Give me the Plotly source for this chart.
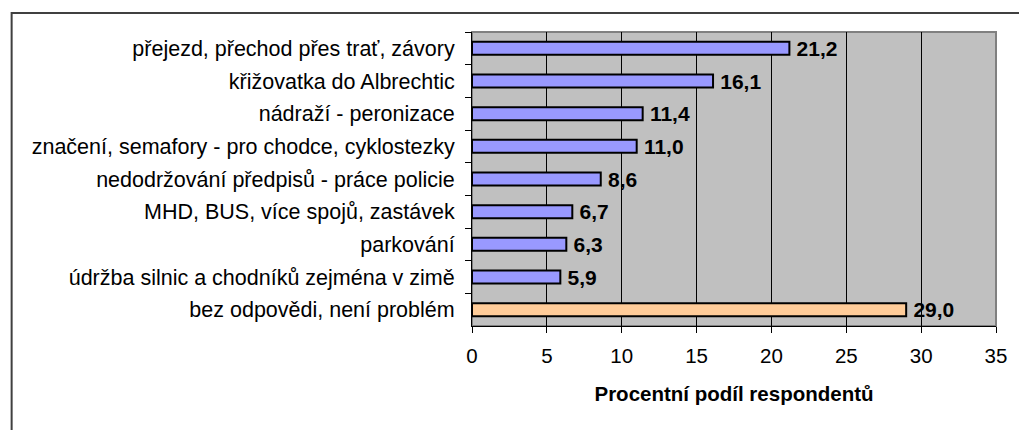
import plotly.graph_objects as go

categories = [
    "přejezd, přechod přes trať, závory",
    "křižovatka do Albrechtic",
    "nádraží - peronizace",
    "značení, semafory - pro chodce, cyklostezky",
    "nedodržování předpisů - práce policie",
    "MHD, BUS, více spojů, zastávek",
    "parkování",
    "údržba silnic a chodníků zejména v zimě",
    "bez odpovědi, není problém",
]
values = [21.2, 16.1, 11.4, 11.0, 8.6, 6.7, 6.3, 5.9, 29.0]
bar_colors = ["#9999FF"] * 8 + ["#FFCC99"]
x_ticks = [0, 5, 10, 15, 20, 25, 30, 35]
x_title = "Procentní podíl respondentů"

# value labels use a decimal comma; a thin space keeps them off the bar end
labels = ["\u2009" + f"{v:.1f}".replace(".", ",") for v in values]
FONT = "Liberation Sans, Arial, sans-serif"

fig = go.Figure(
    go.Bar(
        x=values,
        y=categories,
        orientation="h",
        width=0.4,
        marker=dict(color=bar_colors, line=dict(color="black", width=2)),
        text=labels,
        textposition="outside",
        constraintext="none",
        textfont=dict(family=FONT, size=21, color="black", weight="bold"),
        cliponaxis=False,
    )
)

W, H = 1019, 430
ml, mr, mt, mb = 472, 20, 32, 104
pw, ph = W - ml - mr, H - mt - mb

def px_x(px):
    return (px - ml) / pw

def px_y(py):
    return (H - mb - py) / ph

fig.update_layout(
    width=W,
    height=H,
    margin=dict(l=ml, r=mr, t=mt, b=mb),
    paper_bgcolor="white",
    plot_bgcolor="#C0C0C0",
    showlegend=False,
    font=dict(family=FONT, size=21, color="black"),
    xaxis=dict(
        range=[0, 35],
        tickvals=x_ticks,
        ticktext=[str(t) for t in x_ticks],
        showgrid=True,
        gridcolor="black",
        gridwidth=1,
        zeroline=False,
        showline=True,
        linecolor="black",
        linewidth=1,
        ticks="outside",
        ticklen=6,
        tickcolor="black",
        tickfont=dict(size=20.5),
        ticklabelstandoff=5,
        title=dict(text=x_title, font=dict(size=20.5, weight="bold"), standoff=21),
    ),
    yaxis=dict(
        autorange="reversed",
        showgrid=False,
        zeroline=False,
        showline=True,
        linecolor="black",
        linewidth=1,
        ticks="outside",
        tickson="boundaries",
        ticklen=6,
        tickcolor="black",
        tickfont=dict(size=21.5),
        ticklabelstandoff=12,
    ),
    shapes=[
        # gray frame around the plot area
        dict(type="rect", xref="paper", yref="paper", x0=0, x1=1, y0=0, y1=1,
             line=dict(color="#808080", width=2), layer="below"),
        # outer chart border
        dict(type="rect", xref="paper", yref="paper",
             x0=px_x(9), x1=px_x(1030), y0=px_y(440), y1=px_y(13),
             line=dict(color="#404040", width=2)),
    ],
)

fig.write_html("out.html")
